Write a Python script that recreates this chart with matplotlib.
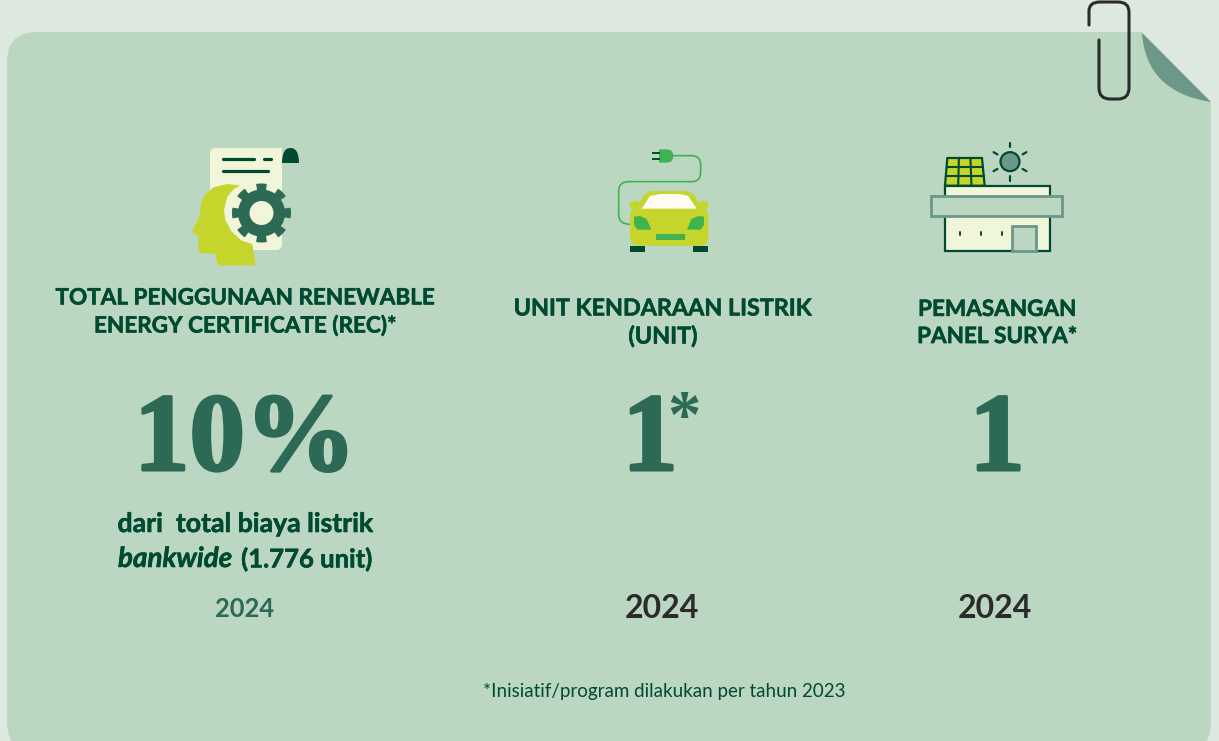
import numpy as np
import matplotlib
matplotlib.use('Agg')
import matplotlib.pyplot as plt
import matplotlib.patches as patches
import matplotlib.patheffects as pe
from matplotlib.path import Path

# texts and values of the infographic
titles = ['TOTAL PENGGUNAAN RENEWABLE\nENERGY CERTIFICATE (REC)*',
          'UNIT KENDARAAN LISTRIK\n(UNIT)',
          'PEMASANGAN\nPANEL SURYA*']
values = ['10%', '1', '1']
years = ['2024', '2024', '2024']
footnote = '*Inisiatif/program dilakukan per tahun 2023'

BG = '#dde9de'
CARD = '#bbd6c1'
DARK = '#2d6a55'
DEEP = '#004a32'
FOLD = '#6b9888'
LIME = '#c5d52b'
CREAM = '#f1f5d9'
GREEN = '#3eb34f'
INK = '#2b2b2b'

plt.rcParams['font.family'] = ['Lato', 'DejaVu Sans']

fig = plt.figure(figsize=(12.19, 7.41), dpi=100, facecolor=BG)
ax = fig.add_axes([0, 0, 1, 1])
ax.set_xlim(0, 1219)
ax.set_ylim(741, 0)
ax.axis('off')


def poly(pts, ox, oy, color, s=1/3, z=3, **kw):
    pts = np.array(pts, dtype=float) * s + [ox, oy]
    ax.add_patch(patches.Polygon(pts, closed=True, fc=color, ec=kw.pop('ec', 'none'), zorder=z, **kw))


def rbox(x0, y0, x1, y1, r, color, z=3, **kw):
    ax.add_patch(patches.FancyBboxPatch((x0 + r, y0 + r), x1 - x0 - 2*r, y1 - y0 - 2*r,
                                        boxstyle='round,pad=%f' % r, fc=color,
                                        ec=kw.pop('ec', 'none'), zorder=z, **kw))


def curve(verts, codes, color, z=3, lw=0, fill=True):
    ax.add_patch(patches.PathPatch(Path(verts, codes), fc=color if fill else 'none',
                                   ec=color if lw else 'none', lw=lw, zorder=z, capstyle='round'))


# card and folded corner
rbox(7, 32, 1211, 752, 30, CARD, z=1)
ax.add_patch(patches.Polygon([(1142, 32), (1225, 32), (1225, 102), (1211, 102)], fc=BG, ec='none', zorder=2))
curve([(1142, 33), (1146, 92), (1211, 102), (1142, 33)],
      [Path.MOVETO, Path.CURVE3, Path.CURVE3, Path.CLOSEPOLY], FOLD)

# paper clip
curve([(1089, 25), (1089, 11), (1089, 2), (1100, 2), (1118, 2), (1129, 2), (1129, 12), (1129, 88), (1129, 99),
       (1118, 99), (1110, 99), (1099, 99), (1099, 88), (1099, 40)],
      [Path.MOVETO, Path.LINETO, Path.CURVE3, Path.CURVE3, Path.LINETO, Path.CURVE3, Path.CURVE3, Path.LINETO,
       Path.CURVE3, Path.CURVE3, Path.LINETO, Path.CURVE3, Path.CURVE3, Path.LINETO], INK, z=5, lw=2.2, fill=False)

# certificate icon
ox, oy = 170, 130
rbox(210, 148, 282, 250, 6, CREAM)
ax.add_patch(patches.Rectangle((270, 148), 12, 20, fc=CREAM, ec='none', zorder=3))
curve([(282, 163), (282, 148), (290.5, 148), (299, 148), (299, 163), (282, 163)],
      [Path.MOVETO, Path.CURVE3, Path.CURVE3, Path.CURVE3, Path.CURVE3, Path.CLOSEPOLY], DEEP, z=4)
for x0, x1, y in [(223, 254, 159), (264, 271, 159), (223, 268, 170.5)]:
    ax.plot([x0, x1], [y, y], color=DEEP, lw=2.3, solid_capstyle='round', zorder=4)
head = [(210, 167), (172, 162), (130, 172), (100, 200), (91, 235), (88, 262), (65, 305), (85, 318), (85, 360),
        (92, 370), (135, 370), (145, 406), (257, 406), (247, 342), (215, 332), (185, 305), (166, 270), (162, 240),
        (172, 200), (190, 178)]
poly(head, ox, oy, LIME, z=4)
gx, gy = 261.5, 213
ang = np.linspace(0, 2*np.pi, 721)
teeth = 8
phase = (ang * teeth / (2*np.pi)) % 1
rad = np.where((phase < 0.24) | (phase > 0.76), 29.5, 23.5)
ax.fill(gx + rad*np.cos(ang), gy + rad*np.sin(ang), color=DARK, lw=0, zorder=5)
ax.add_patch(patches.Circle((gx, gy), 12, fc=CREAM, ec='none', zorder=6))

# car icon
ox, oy = 600, 135
cord = np.array([(220, 62), (275, 62), (302, 62), (302, 90), (302, 112), (302, 140), (275, 140), (85, 140), (56, 140),
                 (56, 168), (56, 240), (56, 268), (92, 268)], dtype=float) / 3 + [ox, oy]
curve(cord,
      [Path.MOVETO, Path.LINETO, Path.CURVE3, Path.CURVE3, Path.LINETO, Path.CURVE3, Path.CURVE3, Path.LINETO,
       Path.CURVE3, Path.CURVE3, Path.LINETO, Path.CURVE3, Path.CURVE3], GREEN, lw=1.2, fill=False)
curve(np.array([(177, 43), (198, 43), (220, 43), (220, 63), (220, 83), (198, 83), (177, 83), (177, 43)], dtype=float)/3 + [ox, oy],
      [Path.MOVETO, Path.LINETO, Path.CURVE3, Path.CURVE3, Path.CURVE3, Path.CURVE3, Path.LINETO, Path.CLOSEPOLY], GREEN)
for y in (54, 72):
    ax.plot([ox + 159/3, ox + 177/3], [oy + y/3, oy + y/3], color=DEEP, lw=1.4, zorder=3)
poly([(90, 332), (135, 332), (135, 351), (90, 351)], ox, oy, DEEP)
poly([(279, 332), (324, 332), (324, 351), (279, 351)], ox, oy, DEEP)
ax.add_patch(patches.Ellipse((ox + 105/3, oy + 210/3), 11, 8, fc=LIME, ec='none', zorder=3))
ax.add_patch(patches.Ellipse((ox + 310/3, oy + 210/3), 11, 8, fc=LIME, ec='none', zorder=3))
poly([(108, 225), (130, 182), (150, 168), (265, 168), (285, 182), (307, 225)], ox, oy, LIME)
rbox(ox + 90/3, oy + 218/3, ox + 325/3, oy + 332/3, 8, LIME, z=3)
poly([(125, 221), (150, 183), (180, 177), (240, 177), (265, 183), (290, 221)], ox, oy, '#fdfdf5', z=4)
poly([(102, 245), (120, 243), (140, 252), (154, 284), (112, 284), (102, 270)], ox, oy, GREEN, z=4)
poly([(312, 245), (294, 243), (274, 252), (261, 284), (302, 284), (312, 270)], ox, oy, GREEN, z=4)
poly([(168, 297), (255, 297), (255, 315), (168, 315)], ox, oy, GREEN, z=4)

# solar house icon
ox, oy = 920, 135
ax.add_patch(patches.Rectangle((ox + 75/3, oy + 153/3), 315/3, 195/3, fc=CREAM, ec=DEEP, lw=1.6, zorder=3))
poly([(82, 69), (186, 69), (194, 152), (75, 152)], ox, oy, LIME, ec=DEEP, lw=1.6)
for t in (1/3, 2/3):
    ax.plot([ox + (82 + 104*t)/3, ox + (75 + 119*t)/3], [oy + 69/3, oy + 152/3], color=DEEP, lw=1.5, zorder=4)
    left = 82 - 7*t
    right = 186 + 8*t
    yy = oy + (69 + 83*t)/3
    ax.plot([ox + left/3, ox + right/3], [yy, yy], color=DEEP, lw=1.5, zorder=4)
ax.add_patch(patches.Rectangle((ox + 34/3, oy + 184/3), 393/3, 58/3, fc=CARD, ec=FOLD, lw=2, zorder=4))
ax.add_patch(patches.Rectangle((ox + 276/3, oy + 273/3), 71/3, 76/3, fc=CARD, ec=FOLD, lw=2, zorder=4))
for x in (120, 183, 245):
    ax.plot([ox + x/3, ox + x/3], [oy + 291/3, oy + 301/3], color=DEEP, lw=1.4, solid_capstyle='round', zorder=4)
sx, sy = ox + 270/3, oy + 80/3
ax.add_patch(patches.Circle((sx, sy), 9.5, fc=FOLD, ec=DEEP, lw=1.6, zorder=4))
for a in (-90, -30, 30, 90, 150, 210):
    ca, sa = np.cos(np.radians(a)), np.sin(np.radians(a))
    ax.plot([sx + 14.5*ca, sx + 19*ca], [sy + 14.5*sa, sy + 19*sa], color=DEEP, lw=1.6,
            solid_capstyle='round', zorder=4)

# text columns
title_xy = [(245, 312), (663, 323), (997, 323)]
title_size = [16.2, 16.8, 16.2]
value_xy = [(245, 470), (650, 470), (997, 470)]
year_xy = [(245, 609), (662, 609), (995, 609)]
year_style = [dict(size=18.4, color=DARK), dict(size=23, color=INK), dict(size=23, color=INK)]
bold_edge = [pe.withStroke(linewidth=2.2, foreground=DARK)]
thick = [pe.withStroke(linewidth=0.4, foreground=DEEP)]

for t, (x, y), fs in zip(titles, title_xy, title_size):
    ax.text(x, y, t, ha='center', va='center', fontsize=fs, fontweight='bold', color=DEEP,
            linespacing=1.36, zorder=6, path_effects=thick)
for v, (x, y) in zip(values, value_xy):
    ax.text(x, y, v, ha='center', va='baseline', fontsize=80, fontweight='bold',
            family='Liberation Serif', color=DARK, zorder=6, path_effects=bold_edge)
ax.text(684, 419, '*', ha='center', va='center', fontsize=48, fontweight='bold',
        family='Liberation Serif', color=DARK, zorder=6)
for y_, (x, y), st in zip(years, year_xy, year_style):
    ax.text(x, y, y_, ha='center', va='center', fontweight='bold', zorder=6, **st)

ax.text(245, 524, 'dari  total biaya listrik', ha='center', va='center', fontsize=19.2,
        fontweight='bold', color=DEEP, zorder=6, path_effects=thick)
ax.text(118, 559, 'bankwide', ha='left', va='center', fontsize=20, fontweight='bold', style='italic',
        color=DEEP, zorder=6, path_effects=thick)
ax.text(373, 559, '(1.776 unit)', ha='right', va='center', fontsize=18.5, fontweight='bold',
        color=DEEP, zorder=6, path_effects=thick)
ax.text(664, 692, footnote, ha='center', va='center', fontsize=13.5, color=DEEP, zorder=6)

fig.savefig('out.png', dpi=100, facecolor=BG)
